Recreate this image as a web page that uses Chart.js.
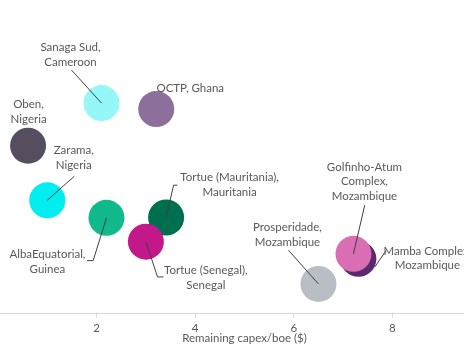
<!DOCTYPE html>
<html>
<head>
<meta charset="utf-8">
<script src="https://cdn.jsdelivr.net/npm/chart.js@4.4.0/dist/chart.umd.min.js"></script>
<style>
    html, body { margin: 0; padding: 0; background: #fff; overflow: hidden; }
    #wrap { position: absolute; left: -2px; top: 0; width: 493px; height: 348px; }
</style>
</head>
<body>
<div id="wrap"><canvas id="capexChart" width="493" height="348"></canvas></div>
<script>
// data (y has no visible axis, so arbitrary units 0-100)
const projects = ['Oben, Nigeria', 'Sanaga Sud, Cameroon', 'OCTP, Ghana', 'Zarama, Nigeria',
    'AlbaEquatorial, Guinea', 'Tortue (Mauritania), Mauritania', 'Tortue (Senegal), Senegal',
    'Prosperidade, Mozambique', 'Mamba Complex, Mozambique', 'Golfinho-Atum Complex, Mozambique'];
const labelLines = [
    ['Oben,', 'Nigeria'],
    ['Sanaga Sud,', 'Cameroon'],
    ['OCTP, Ghana'],
    ['Zarama,', 'Nigeria'],
    ['AlbaEquatorial,', 'Guinea'],
    ['Tortue (Mauritania),', 'Mauritania'],
    ['Tortue (Senegal),', 'Senegal'],
    ['Prosperidade,', 'Mozambique'],
    ['Mamba Complex,', 'Mozambique'],
    ['Golfinho-Atum', 'Complex,', 'Mozambique']
];
const capexPerBoe = [0.61, 2.10, 3.21, 1.00, 2.20, 3.41, 3.00, 6.50, 7.31, 7.21];
const yValues = [53.5, 67.1, 65.2, 36.1, 30.5, 30.6, 22.9, 9.4, 17.4, 19.0];
const bubbleSize = [18, 18, 18, 18, 18, 18, 18, 18, 18, 18];
const colours = ['#564d5f', '#95f7f7', '#8c6f9a', '#00eef0', '#12b98b',
    '#006f50', '#c2188a', '#b8bec4', '#5b2a6e', '#da6eb4'];
const xTicks = [2, 4, 6, 8];

// label placement: offset of text centre and leader path from bubble centre
const labelLayout = [
    { dx: 0.5, dy: -41 },
    { dx: -31, dy: -56, leader: [[-30, -33], [0, 0]] },
    { dx: 34, dy: -21 },
    { dx: 26.5, dy: -50, leader: [[27, -24], [0, 0]] },
    { dx: -59, dy: 36.5, leader: [[0, 0], [-13.3, 42.8], [-19.3, 42.8]] },
    { dx: 63.5, dy: -40, leader: [[0, 0], [7.5, -32.3], [11.2, -32.3]] },
    { dx: 60, dy: 29, leader: [[0, 0], [11.6, 35.3], [17.6, 35.3]] },
    { dx: -31, dy: -56.7, leader: [[-30, -33.7], [0, 0]] },
    { dx: 69, dy: -8, leader: [[27.7, -8.3], [16.3, 8.3]] },
    { dx: 11, dy: -87, leader: [[11.3, -48.7], [0, 0]] }
];

const FONT = 'Lato, "Liberation Sans", sans-serif';

const labelPlugin = {
    id: 'bubbleLabels',
    afterDatasetsDraw(chart) {
        const ctx = chart.ctx;
        const meta = chart.getDatasetMeta(0);
        ctx.save();
        ctx.font = '11.5px ' + FONT;
        ctx.fillStyle = '#595959';
        ctx.strokeStyle = '#404040';
        ctx.lineWidth = 1;
        ctx.textAlign = 'center';
        ctx.textBaseline = 'middle';
        meta.data.forEach((pt, i) => {
            const lay = labelLayout[i];
            if (lay.leader) {
                ctx.beginPath();
                lay.leader.forEach(([dx, dy], k) => {
                    if (k === 0) ctx.moveTo(pt.x + dx, pt.y + dy);
                    else ctx.lineTo(pt.x + dx, pt.y + dy);
                });
                ctx.stroke();
            }
            labelLines[i].forEach((line, k) => {
                ctx.fillText(line, pt.x + lay.dx, pt.y + lay.dy + k * 14.7);
            });
        });
        ctx.restore();
    }
};

const ctx = document.getElementById('capexChart').getContext('2d');
new Chart(ctx, {
    type: 'bubble',
    data: {
        datasets: [{
            label: 'Projects',
            data: projects.map((p, i) => ({ x: capexPerBoe[i], y: yValues[i], r: bubbleSize[i] })),
            backgroundColor: colours,
            borderWidth: 0,
            hoverBorderWidth: 0
        }]
    },
    options: {
        responsive: false,
        animation: false,
        devicePixelRatio: 1,
        layout: { autoPadding: false, padding: { top: 0, left: 0, right: 0, bottom: 3 } },
        plugins: {
            legend: { display: false },
            tooltip: { enabled: false }
        },
        scales: {
            x: {
                type: 'linear',
                min: 0,
                max: 10,
                afterBuildTicks: (axis) => { axis.ticks = xTicks.map(v => ({ value: v })); },
                grid: {
                    drawOnChartArea: false,
                    drawTicks: true,
                    tickLength: 4,
                    color: '#d9d9d9'
                },
                border: { color: '#d9d9d9', width: 1 },
                ticks: {
                    padding: 4,
                    color: '#595959',
                    font: { family: FONT, size: 11.5 }
                },
                title: {
                    display: true,
                    text: 'Remaining capex/boe ($)',
                    color: '#595959',
                    padding: { top: -8, bottom: 0 },
                    font: { family: FONT, size: 11.5 }
                }
            },
            y: {
                display: false,
                min: 0,
                max: 100
            }
        }
    },
    plugins: [labelPlugin]
});
</script>
</body>
</html>
